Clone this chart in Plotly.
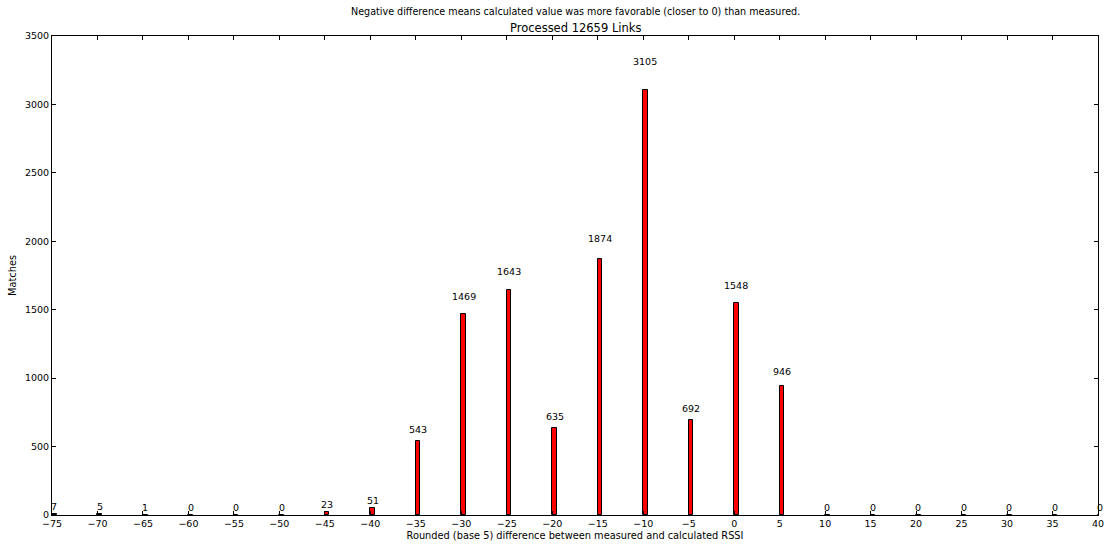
import plotly.graph_objects as go

diffs = [-75, -70, -65, -60, -55, -50, -45, -40, -35, -30, -25, -20, -15, -10, -5, 0, 5, 10, 15, 20, 25, 30, 35, 40]
matches = [7, 5, 1, 0, 0, 0, 23, 51, 543, 1469, 1643, 635, 1874, 3105, 692, 1548, 946, 0, 0, 0, 0, 0, 0, 0]
x_ticks = list(range(-75, 41, 5))
y_ticks = list(range(0, 3501, 500))

x_range = [-75, 40]
y_range = [0, 3500]
bar_w = 0.5
font = "DejaVu Sans"
fs = 9.5


def to_paper(v, rng):
    return (v - rng[0]) / (rng[1] - rng[0])


fig = go.Figure()
fig.add_trace(go.Bar(
    x=diffs, y=matches, width=bar_w, offset=0,
    marker=dict(color="#ff0000", line=dict(color="black", width=1)),
    showlegend=False, hoverinfo="x+y",
))

annotations = [
    dict(text=str(m), xref="paper", yref="paper",
         x=to_paper(d + bar_w / 2, x_range), y=to_paper(1.05 * m, y_range),
         showarrow=False, xanchor="center", yanchor="bottom",
         font=dict(family=font, size=fs, color="black"))
    for d, m in zip(diffs, matches)
]
annotations += [
    dict(text="Negative difference means calculated value was more favorable (closer to 0) than measured.",
         xref="paper", yref="paper", x=0.5, y=1, yshift=25, showarrow=False,
         xanchor="center", yanchor="middle", font=dict(family=font, size=9.6, color="black")),
    dict(text="Processed 12659 Links",
         xref="paper", yref="paper", x=0.5, y=1, yshift=8, showarrow=False,
         xanchor="center", yanchor="middle", font=dict(family=font, size=11.5, color="black")),
]

axis_common = dict(
    showgrid=False, zeroline=False, showline=True, linecolor="black", linewidth=1,
    mirror="ticks", ticks="inside", ticklen=4, tickcolor="black", automargin=False,
    tickfont=dict(family=font, size=fs, color="black"),
)
fig.update_xaxes(range=x_range, tickmode="array", tickvals=x_ticks,
                 ticktext=[str(t).replace("-", "\u2212") for t in x_ticks],
                 title=dict(text="Rounded (base 5) difference between measured and calculated RSSI",
                            font=dict(family=font, size=9.8, color="black"), standoff=3),
                 **axis_common)
fig.update_yaxes(range=y_range, tickmode="array", tickvals=y_ticks,
                 title=dict(text="Matches", font=dict(family=font, size=9.8, color="black"), standoff=6),
                 **axis_common)

fig.update_layout(
    width=1114, height=549,
    margin=dict(l=52, r=16, t=36, b=34),
    plot_bgcolor="white", paper_bgcolor="white",
    bargap=0,
    annotations=annotations,
)

fig.write_html(
    "out.html",
    config={"displayModeBar": False},
    post_script="document.body.style.margin='0px';document.body.style.overflow='hidden';",
)
